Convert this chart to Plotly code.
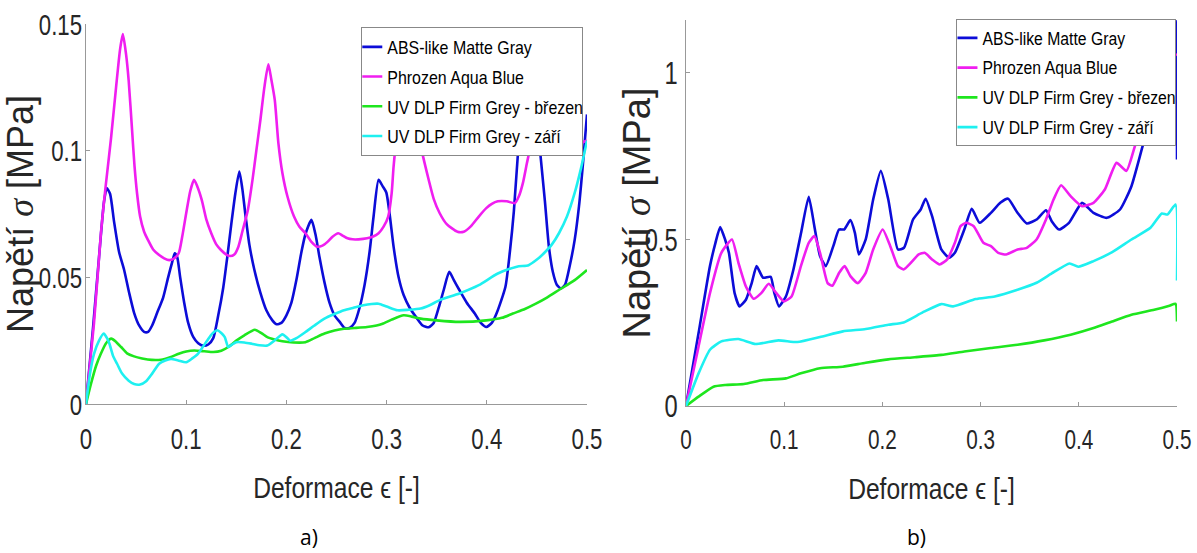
import plotly.graph_objects as go

# ---------------- data: panel a) ----------------
abs_a_x = [0, 0.007, 0.013, 0.018, 0.0207, 0.024, 0.028, 0.033, 0.038, 0.043, 0.048, 0.053, 0.058, 0.062,
           0.066, 0.071, 0.077, 0.082, 0.086, 0.0886, 0.091, 0.094, 0.098, 0.102, 0.107, 0.112, 0.117, 0.122,
           0.127, 0.132, 0.137, 0.141, 0.145, 0.149, 0.153, 0.156, 0.159, 0.163, 0.168, 0.174, 0.180, 0.186,
           0.190, 0.195, 0.200, 0.205, 0.210, 0.215, 0.219, 0.225, 0.229, 0.233, 0.238, 0.243, 0.248, 0.253,
           0.258, 0.263, 0.268, 0.273, 0.278, 0.283, 0.287, 0.292, 0.296, 0.2997, 0.303, 0.307, 0.312, 0.317,
           0.323, 0.330, 0.336, 0.342, 0.347, 0.352, 0.357, 0.3625, 0.367, 0.3726, 0.380, 0.388, 0.394, 0.3995,
           0.405, 0.410, 0.4186, 0.423, 0.427, 0.432, 0.437, 0.442, 0.447, 0.453, 0.458, 0.462, 0.466, 0.470,
           0.474, 0.478, 0.483, 0.4877, 0.492, 0.496, 0.5]
abs_a_y = [0, 0.030, 0.058, 0.080, 0.0852, 0.083, 0.072, 0.060, 0.053, 0.044, 0.036, 0.031, 0.0285, 0.0285,
           0.031, 0.036, 0.042, 0.050, 0.056, 0.0595, 0.058, 0.050, 0.040, 0.032, 0.0265, 0.024, 0.023, 0.0235,
           0.026, 0.035, 0.046, 0.058, 0.071, 0.083, 0.0918, 0.085, 0.075, 0.063, 0.053, 0.044, 0.037, 0.033,
           0.0315, 0.032, 0.035, 0.040, 0.049, 0.060, 0.067, 0.0727, 0.067, 0.058, 0.048, 0.040, 0.035, 0.0325,
           0.030, 0.030, 0.032, 0.038, 0.047, 0.060, 0.074, 0.0885, 0.086, 0.0835, 0.075, 0.062, 0.050, 0.043,
           0.038, 0.034, 0.031, 0.0303, 0.032, 0.038, 0.045, 0.0522, 0.049, 0.045, 0.040, 0.0357, 0.032, 0.0304,
           0.032, 0.036, 0.0463, 0.060, 0.076, 0.104, 0.125, 0.132, 0.125, 0.1005, 0.080, 0.062, 0.052, 0.047,
           0.0456, 0.047, 0.055, 0.0648, 0.078, 0.095, 0.1143]

phr_a_x = [0, 0.008, 0.015, 0.0196, 0.025, 0.030, 0.034, 0.0368, 0.040, 0.0426, 0.046, 0.0484, 0.051, 0.054,
           0.058, 0.0618, 0.067, 0.073, 0.078, 0.083, 0.088, 0.0925, 0.096, 0.100, 0.104, 0.1078, 0.111, 0.1155,
           0.120, 0.125, 0.130, 0.1347, 0.140, 0.144, 0.148, 0.152, 0.156, 0.1616, 0.166, 0.170, 0.174, 0.178,
           0.182, 0.185, 0.1884, 0.192, 0.196, 0.201, 0.2076, 0.213, 0.219, 0.225, 0.2306, 0.236, 0.241, 0.246,
           0.2517, 0.256, 0.261, 0.266, 0.272, 0.2805, 0.286, 0.292, 0.297, 0.3016, 0.305, 0.307, 0.310, 0.315,
           0.320, 0.326, 0.330, 0.334, 0.338, 0.342, 0.347, 0.353, 0.360, 0.3707, 0.377, 0.384, 0.392, 0.3995,
           0.405, 0.411, 0.420, 0.428, 0.432, 0.436, 0.440, 0.4436, 0.448, 0.455, 0.462, 0.470, 0.478, 0.486,
           0.493, 0.5]
phr_a_y = [0, 0.032, 0.068, 0.0859, 0.105, 0.125, 0.140, 0.146, 0.138, 0.1276, 0.108, 0.094, 0.083, 0.074,
           0.068, 0.0648, 0.061, 0.0588, 0.0575, 0.0568, 0.0575, 0.0595, 0.066, 0.0753, 0.084, 0.0885, 0.086, 0.0806,
           0.073, 0.0674, 0.063, 0.0608, 0.059, 0.0584, 0.059, 0.062, 0.068, 0.0767, 0.088, 0.100, 0.112, 0.125,
           0.1341, 0.128, 0.120, 0.103, 0.0912, 0.082, 0.074, 0.070, 0.0674, 0.064, 0.0621, 0.0625, 0.064, 0.066,
           0.0674, 0.0665, 0.0654, 0.065, 0.065, 0.0654, 0.066, 0.0674, 0.070, 0.074, 0.083, 0.0938, 0.105, 0.118,
           0.122, 0.118, 0.110, 0.1018, 0.095, 0.0885, 0.081, 0.0753, 0.071, 0.068, 0.068, 0.0701, 0.074, 0.0773,
           0.079, 0.080, 0.080, 0.0793, 0.082, 0.0872, 0.095, 0.1018, 0.112, 0.122, 0.125, 0.118, 0.110, 0.104,
           0.103, 0.104]

brez_a_x = [0, 0.005, 0.010, 0.015, 0.020, 0.0253, 0.030, 0.035, 0.041, 0.048, 0.056, 0.0656, 0.075, 0.084,
            0.0925, 0.100, 0.108, 0.118, 0.127, 0.135, 0.142, 0.150, 0.158, 0.1685, 0.175, 0.181, 0.188, 0.196,
            0.207, 0.219, 0.228, 0.238, 0.248, 0.2575, 0.268, 0.2805, 0.290, 0.296, 0.305, 0.317, 0.325, 0.334,
            0.350, 0.3726, 0.3995, 0.415, 0.426, 0.438, 0.449, 0.460, 0.472, 0.4877, 0.5]
brez_a_y = [0, 0.008, 0.015, 0.020, 0.024, 0.0258, 0.0245, 0.0225, 0.020, 0.0188, 0.018, 0.0174, 0.0175, 0.0185,
            0.0198, 0.0207, 0.0211, 0.0208, 0.0205, 0.021, 0.0225, 0.025, 0.0271, 0.0293, 0.028, 0.0264, 0.0255, 0.0248,
            0.0243, 0.0244, 0.026, 0.0278, 0.029, 0.0297, 0.030, 0.0304, 0.031, 0.0317, 0.0333, 0.035, 0.0345, 0.0337,
            0.033, 0.0324, 0.033, 0.034, 0.0357, 0.0375, 0.0396, 0.042, 0.045, 0.0489, 0.0529]

zari_a_x = [0, 0.004, 0.008, 0.013, 0.0177, 0.021, 0.0234, 0.027, 0.031, 0.036, 0.0426, 0.048, 0.054, 0.060,
            0.066, 0.073, 0.079, 0.0848, 0.092, 0.100, 0.106, 0.1117, 0.121, 0.126, 0.131, 0.135, 0.1385, 0.142,
            0.146, 0.150, 0.158, 0.1654, 0.173, 0.181, 0.188, 0.196, 0.2005, 0.2038, 0.210, 0.219, 0.228, 0.238,
            0.248, 0.2575, 0.267, 0.2767, 0.285, 0.292, 0.300, 0.311, 0.322, 0.334, 0.343, 0.353, 0.3726, 0.392,
            0.411, 0.430, 0.4417, 0.450, 0.457, 0.465, 0.472, 0.480, 0.4877, 0.494, 0.5]
zari_a_y = [0, 0.012, 0.0198, 0.025, 0.0278, 0.026, 0.0238, 0.019, 0.0159, 0.012, 0.0092, 0.0079, 0.0077, 0.009,
            0.012, 0.0159, 0.0172, 0.0178, 0.0172, 0.0165, 0.018, 0.0198, 0.0251, 0.0278, 0.0291, 0.028, 0.0264, 0.0225,
            0.0235, 0.0244, 0.0243, 0.0238, 0.0232, 0.0231, 0.025, 0.0275, 0.0262, 0.025, 0.026, 0.0284, 0.031, 0.0337,
            0.0355, 0.037, 0.038, 0.039, 0.0395, 0.0396, 0.0385, 0.037, 0.0372, 0.0377, 0.039, 0.041, 0.0436, 0.0469,
            0.0515, 0.0542, 0.0548, 0.057, 0.0595, 0.063, 0.0674, 0.074, 0.0833, 0.093, 0.104]

# ---------------- data: panel b) ----------------
abs_b_x = [0, 0.0128, 0.0244, 0.030, 0.0348, 0.0398, 0.0437, 0.0495, 0.0545, 0.061, 0.0669, 0.0719, 0.0785,
           0.0862, 0.090, 0.0947, 0.1017, 0.1094, 0.1172, 0.125, 0.1307, 0.1365, 0.1423, 0.150, 0.1558, 0.161,
           0.1674, 0.172, 0.176, 0.183, 0.1906, 0.1984, 0.206, 0.2158, 0.222, 0.2312, 0.239, 0.244, 0.2506, 0.260,
           0.268, 0.2738, 0.2834, 0.291, 0.299, 0.3105, 0.320, 0.328, 0.3376, 0.347, 0.357, 0.3666, 0.3724, 0.380,
           0.390, 0.4033, 0.415, 0.4285, 0.442, 0.4536, 0.465, 0.473, 0.4845, 0.492, 0.4985, 0.5]
abs_b_y = [0, 0.219, 0.42, 0.49, 0.537, 0.5, 0.46, 0.339, 0.299, 0.319, 0.369, 0.42, 0.385,
           0.388, 0.339, 0.299, 0.329, 0.41, 0.52, 0.6285, 0.54, 0.45, 0.42, 0.48, 0.53, 0.53,
           0.558, 0.52, 0.455, 0.5, 0.62, 0.706, 0.62, 0.47, 0.475, 0.56, 0.59, 0.6225, 0.57, 0.47,
           0.445, 0.46, 0.53, 0.592, 0.55, 0.58, 0.61, 0.6225, 0.58, 0.548, 0.56, 0.588, 0.555, 0.53,
           0.55, 0.61, 0.58, 0.565, 0.59, 0.66, 0.78, 0.86, 0.97, 1.06, 1.16, 0.74]

phr_b_x = [0, 0.0128, 0.0244, 0.036, 0.0468, 0.0534, 0.061, 0.0688, 0.0766, 0.0843, 0.092, 0.0998, 0.1075,
           0.117, 0.125, 0.1307, 0.1365, 0.1442, 0.149, 0.156, 0.1616, 0.1674, 0.175, 0.183, 0.1906, 0.2003,
           0.208, 0.2158, 0.2216, 0.229, 0.237, 0.243, 0.2506, 0.2583, 0.266, 0.2738, 0.2796, 0.2854, 0.293,
           0.3028, 0.3105, 0.318, 0.326, 0.3376, 0.347, 0.357, 0.3666, 0.3743, 0.382, 0.3917, 0.4033, 0.415,
           0.4265, 0.4384, 0.4485, 0.4566, 0.465, 0.475, 0.485, 0.493, 0.5]
phr_b_y = [0, 0.179, 0.339, 0.46, 0.5, 0.43, 0.359, 0.322, 0.339, 0.367, 0.339, 0.314, 0.329,
           0.42, 0.49, 0.51, 0.46, 0.369, 0.361, 0.40, 0.42, 0.39, 0.369, 0.40, 0.47, 0.53,
           0.48, 0.42, 0.41, 0.43, 0.455, 0.46, 0.44, 0.425, 0.44, 0.49, 0.54, 0.55, 0.54,
           0.49, 0.48, 0.46, 0.455, 0.47, 0.475, 0.50, 0.56, 0.62, 0.663, 0.63, 0.60, 0.61,
           0.65, 0.73, 0.706, 0.775, 0.86, 0.95, 1.00, 1.04, 1.057]

brez_b_x = [0, 0.0128, 0.028, 0.040, 0.059, 0.0785, 0.1017, 0.117, 0.1365, 0.1597, 0.183, 0.206, 0.233,
            0.260, 0.2834, 0.3105, 0.3376, 0.3647, 0.3917, 0.415, 0.434, 0.4536, 0.4768, 0.4923, 0.4985, 0.5]
brez_b_y = [0, 0.028, 0.058, 0.063, 0.066, 0.078, 0.083, 0.098, 0.1135, 0.118, 0.13, 0.14, 0.1466,
            0.1536, 0.1637, 0.174, 0.184, 0.197, 0.214, 0.234, 0.254, 0.274, 0.289, 0.301, 0.307, 0.254]

zari_b_x = [0, 0.0128, 0.0244, 0.036, 0.0534, 0.0708, 0.094, 0.1133, 0.1365, 0.1597, 0.183, 0.206, 0.2216,
            0.241, 0.260, 0.272, 0.295, 0.3144, 0.3376, 0.357, 0.3724, 0.3906, 0.3995, 0.415, 0.434, 0.4536,
            0.473, 0.4845, 0.4903, 0.4985, 0.5]
zari_b_y = [0, 0.098, 0.169, 0.194, 0.201, 0.186, 0.197, 0.192, 0.207, 0.224, 0.231, 0.244, 0.251,
            0.281, 0.306, 0.299, 0.321, 0.329, 0.349, 0.37, 0.398, 0.428, 0.418, 0.435, 0.462, 0.5,
            0.535, 0.578, 0.575, 0.605, 0.377]

names = ["ABS-like Matte Gray", "Phrozen Aqua Blue", "UV DLP Firm Grey - březen", "UV DLP Firm Grey - září"]
colors = ["#0c0cd8", "#f01ef0", "#1ee61e", "#1ef0f0"]

x_ticks = [0, 0.1, 0.2, 0.3, 0.4, 0.5]
x_ticktext = ["0", "0.1", "0.2", "0.3", "0.4", "0.5"]
ya_ticks = [0, 0.05, 0.1, 0.15]
ya_ticktext = ["0", "0.05", "0.1", "0.15"]
yb_ticks = [0, 0.5, 1]
yb_ticktext = ["0", "0.5", "1"]

W, H = 1197, 553
SANS = "Liberation Sans, Arial, sans-serif"
TXT = "#262626"
SIGMA = "<span style=\"font-family:'Liberation Serif','DejaVu Serif',serif\"><i>σ</i></span>"

fig = go.Figure()
panel_a = [(abs_a_x, abs_a_y), (phr_a_x, phr_a_y), (brez_a_x, brez_a_y), (zari_a_x, zari_a_y)]
panel_b = [(abs_b_x, abs_b_y), (phr_b_x, phr_b_y), (brez_b_x, brez_b_y), (zari_b_x, zari_b_y)]
for i, (xs, ys) in enumerate(panel_a):
    fig.add_trace(go.Scatter(x=xs, y=ys, mode="lines", name=names[i], legend="legend",
                             legendgroup="a%d" % i, xaxis="x", yaxis="y",
                             line=dict(color=colors[i], width=2.6, shape="spline", smoothing=0.6)))
for i, (xs, ys) in enumerate(panel_b):
    fig.add_trace(go.Scatter(x=xs, y=ys, mode="lines", name=names[i], legend="legend2",
                             legendgroup="b%d" % i, xaxis="x2", yaxis="y2",
                             line=dict(color=colors[i], width=2.6, shape="spline", smoothing=0.5)))


def xax(domain, anchor, standoff, fs):
    return dict(domain=domain, anchor=anchor, range=[0, 0.5], tickmode="array", tickvals=x_ticks,
                ticktext=x_ticktext, ticks="inside", ticklen=4, tickcolor="#999999", automargin=False,
                showline=True, linecolor="#999999", linewidth=1, showgrid=False, zeroline=False,
                tickfont=dict(family=SANS, size=fs, color=TXT), ticklabelstandoff=8,
                ticklabeloverflow="allow",
                title=dict(text="Deformace ϵ [-]", font=dict(family=SANS, size=30, color=TXT),
                           standoff=standoff))


def yax(domain, anchor, rng, tv, tt, fs, tfs, tls):
    return dict(domain=domain, anchor=anchor, range=rng, tickmode="array", tickvals=tv, ticktext=tt,
                ticks="inside", ticklen=4, tickcolor="#999999", showline=True, linecolor="#999999",
                linewidth=1, showgrid=False, zeroline=False, automargin=False,
                tickfont=dict(family=SANS, size=fs, color=TXT), ticklabelstandoff=tls,
                ticklabeloverflow="allow",
                title=dict(text="Napětí " + SIGMA + " [MPa]",
                           font=dict(family=SANS, size=tfs, color=TXT), standoff=0))


fig.update_layout(
    width=W, height=H, margin=dict(l=0, r=0, t=0, b=0, autoexpand=False),
    paper_bgcolor="white", plot_bgcolor="white",
    xaxis=xax([86 / W, 587 / W], "y", 22, 30),
    yaxis=yax([1 - 404 / H, 1 - 24 / H], "x", [0, 0.15], ya_ticks, ya_ticktext, 30, 36, -3),
    xaxis2=xax([686 / W, 1177 / W], "y2", 24, 28),
    yaxis2=yax([1 - 406 / H, 1 - 20 / H], "x2", [0, 1.159], yb_ticks, yb_ticktext, 32, 38, 1),
    legend=dict(x=585 / W, xanchor="right", y=1 - 27 / H, yanchor="top", bgcolor="white",
                bordercolor="#888888", borderwidth=1, tracegroupgap=2, indentation=-15,
                font=dict(family=SANS, size=19, color="black")),
    legend2=dict(x=1178 / W, xanchor="right", y=1 - 19 / H, yanchor="top", bgcolor="white",
                 bordercolor="#888888", borderwidth=1, tracegroupgap=4, indentation=-15,
                 font=dict(family=SANS, size=17.5, color="black")),
    annotations=[
        dict(text="a)", x=309 / W, y=0, xref="paper", yref="paper", showarrow=False,
             xanchor="center", yanchor="bottom", font=dict(family="Open Sans", size=21, color="black")),
        dict(text="b)", x=916 / W, y=0, xref="paper", yref="paper", showarrow=False,
             xanchor="center", yanchor="bottom", font=dict(family="Open Sans", size=21, color="black")),
    ],
)

# The reference uses horizontally condensed lettering; squeeze the rendered text horizontally.
squeeze_js = r"""
var gd = document.getElementById('{plot_id}');
function sq(t, f) {
  if (t.getAttribute('data-sq')) return -1;
  var L = t.getComputedTextLength();
  if (L > 0) {
    t.setAttribute('textLength', (L * f).toFixed(2));
    t.setAttribute('lengthAdjust', 'spacingAndGlyphs');
    t.setAttribute('data-sq', '1');
    return L * (1 - f);
  }
  return -1;
}
function bgOf(p) {
  for (var i = 0; i < p.children.length; i++) {
    var c = p.children[i];
    if (c.tagName.toLowerCase() === 'rect' && c.classList.contains('bg')) return c;
  }
  return null;
}
var legendSqueeze = {legend: 0.84, legend2: 0.9};
function run() {
  gd.querySelectorAll('g.xtick text, g.ytick text, g.x2tick text, g.y2tick text').forEach(function (t) { sq(t, 0.74); });
  gd.querySelectorAll('g.g-xtitle text, g.g-x2title text').forEach(function (t) { sq(t, 0.82); });
  var y2t = gd.querySelector('g.g-y2title');
  if (y2t && !y2t.getAttribute('data-sq')) {
    y2t.setAttribute('transform', 'translate(30,0) ' + (y2t.getAttribute('transform') || ''));
    y2t.setAttribute('data-sq', '1');
  }
  ['legend', 'legend2'].forEach(function (id) {
    var lg = gd.querySelector('g.infolayer > g.' + id);
    if (!lg || lg.getAttribute('data-sq')) return;
    var texts = lg.querySelectorAll('text.' + id + 'text');
    if (!texts.length) return;
    var d = 0;
    texts.forEach(function (t) { var r = sq(t, legendSqueeze[id]); if (r > d) d = r; });
    var bg = bgOf(lg);
    if (!bg || d <= 0) return;
    bg.setAttribute('width', (parseFloat(bg.getAttribute('width')) - d - 6).toFixed(2));
    var tr = lg.getAttribute('transform') || '';
    var m = tr.match(/translate\(([-\d.e]+)[ ,]+([-\d.e]+)\)/);
    if (m) { lg.setAttribute('transform', 'translate(' + (parseFloat(m[1]) + d + 4) + ',' + m[2] + ')'); }
    lg.setAttribute('data-sq', '1');
  });
}
run();
setTimeout(run, 30);
setTimeout(run, 200);
"""

fig.write_html("out.html", post_script=squeeze_js)
